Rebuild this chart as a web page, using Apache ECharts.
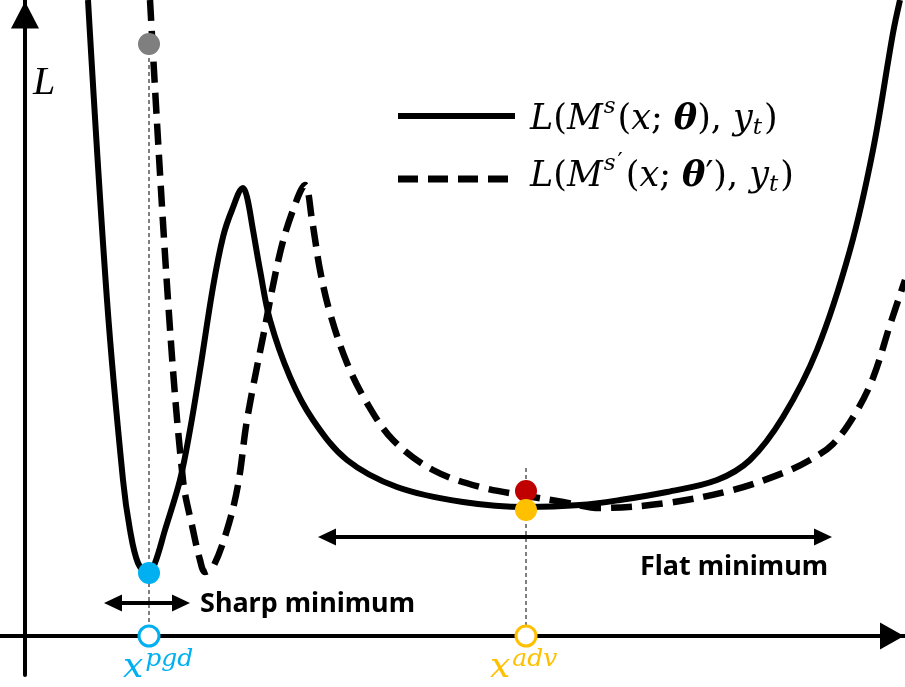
<!DOCTYPE html>
<html>
<head>
<meta charset="utf-8">
<script src="https://cdn.jsdelivr.net/npm/echarts@6/dist/echarts.min.js"></script>
<style>
  html, body { margin: 0; padding: 0; background: #fff; }
  #chart { width: 905px; height: 687px; }
</style>
</head>
<body>
<div id="chart"></div>
<script>
// DATA (x along the input axis, L = loss, origin where the two axes cross)

// solid curve  L(M^s(x; θ), y_t)
var solidLoss = [
  [63, 636], [82, 336], [98, 156], [105, 106], [113, 73], [123, 62],
  [130, 73], [140, 106], [155, 156], [165, 206], [175, 266], [188, 349],
  [198, 399], [207, 426], [218, 448], [222, 439], [228, 406], [235, 366],
  [245, 316], [265, 259], [288, 216], [322, 176], [372, 149], [438, 134],
  [502, 129], [555, 131], [595, 136], [642, 144], [692, 156], [725, 176],
  [758, 219], [792, 286], [825, 386], [848, 486], [868, 603], [875, 636]
];

// dashed curve  L(M^s'(x; θ'), y_t)
var dashedLoss = [
  [125, 636], [143, 336], [158, 156], [168, 106], [175, 76], [180, 64],
  [188, 69], [202, 106], [213, 151], [222, 216], [238, 299], [255, 383],
  [268, 426], [280, 451], [287, 416], [295, 366], [305, 323], [322, 273],
  [342, 233], [368, 196], [408, 166], [455, 149], [502, 140], [538, 134],
  [575, 128], [642, 133], [708, 146], [758, 163], [785, 176], [808, 192],
  [830, 222], [848, 258], [865, 311], [880, 356]
];

var xPgd = 124;
var xAdv = 501;

// points sitting on the curves
var grayPoint = [[xPgd, 592]];
var bluePoint = [[xPgd, 63]];
var redPoint = [[xAdv, 145]];
var yellowPoint = [[xAdv, 126]];

// guide lines dropped to the x axis
var pgdGuide = [[xPgd, 592], [xPgd, 0]];
var advGuide = [[xAdv, 168], [xAdv, 0]];

// width of the minima
var sharpRange = [88, 156];
var sharpLevel = 33;
var flatRange = [302, 798];
var flatLevel = 99;

// legend samples
var legendSolid = [[373, 520], [490, 520]];
var legendDashed = [[373, 457], [490, 457]];

var labelTexts = {
  axis: 'L',
  sharp: 'Sharp minimum',
  flat: 'Flat minimum'
};

// CHART
var chart = echarts.init(document.getElementById('chart'));

var serif = '"DejaVu Serif", "Liberation Serif", serif';
var mathRich = {
  i: { fontFamily: serif, fontStyle: 'italic', fontSize: 35, lineHeight: 56, color: '#000' },
  n: { fontFamily: serif, fontSize: 35, lineHeight: 56, color: '#000' },
  b: { fontFamily: serif, fontStyle: 'italic', fontWeight: 'bold', fontSize: 35, lineHeight: 56, color: '#000' },
  sup: { fontFamily: serif, fontStyle: 'italic', fontSize: 23, lineHeight: 22, verticalAlign: 'top', padding: [4, 2, 0, 1], color: '#000' },
  pr: { fontFamily: serif, fontSize: 23, lineHeight: 22, verticalAlign: 'top', padding: [2, 3, 0, 0], color: '#000' },
  sub: { fontFamily: serif, fontStyle: 'italic', fontSize: 23, lineHeight: 22, verticalAlign: 'bottom', padding: [0, 2, 8, 0], color: '#000' }
};

function xLabelRich(color) {
  return {
    m: { fontFamily: serif, fontStyle: 'italic', fontSize: 36, lineHeight: 50, color: color },
    s: { fontFamily: serif, fontStyle: 'italic', fontSize: 25, lineHeight: 24, verticalAlign: 'top', padding: [4, 0, 0, 2], color: color }
  };
}

function textPoint(name, pos, text, rich, extra) {
  var label = Object.assign({
    show: true,
    position: 'inside',
    align: 'left',
    verticalAlign: 'middle',
    color: '#000',
    textBorderWidth: 0,
    formatter: text,
    rich: rich
  }, extra || {});
  return {
    name: name,
    type: 'scatter',
    symbolSize: 0,
    silent: true,
    clip: false,
    z: 10,
    itemStyle: { opacity: 1 },
    data: [pos],
    label: label
  };
}

function dot(name, data, color, border, size) {
  return {
    name: name,
    type: 'scatter',
    data: data,
    symbol: 'circle',
    symbolSize: size || 22,
    clip: false,
    z: 8,
    itemStyle: border
      ? { color: '#fff', borderColor: color, borderWidth: 3, opacity: 1 }
      : { color: color, opacity: 1 }
  };
}

var option = {
  animation: false,
  backgroundColor: '#fff',
  grid: { left: 0, right: 0, top: 0, bottom: 12 },
  xAxis: {
    type: 'value',
    min: -25,
    max: 880,
    axisLine: {
      onZero: true,
      symbol: ['none', 'triangle'],
      symbolSize: [27, 24],
      symbolOffset: [0, -13],
      lineStyle: { color: '#000', width: 4 }
    },
    axisTick: { show: false },
    axisLabel: { show: false },
    splitLine: { show: false }
  },
  yAxis: {
    type: 'value',
    min: -39,
    max: 636,
    axisLine: {
      onZero: true,
      symbol: ['none', 'triangle'],
      symbolSize: [28, 27],
      symbolOffset: [0, -15],
      lineStyle: { color: '#000', width: 4 }
    },
    axisTick: { show: false },
    axisLabel: { show: false },
    splitLine: { show: false }
  },
  series: [
    {
      name: 'guides',
      type: 'line',
      data: pgdGuide,
      symbol: 'none',
      z: 1,
      lineStyle: { color: '#000', width: 1, type: [4, 3] }
    },
    {
      name: 'guides2',
      type: 'line',
      data: advGuide,
      symbol: 'none',
      z: 1,
      lineStyle: { color: '#000', width: 1, type: [4, 3] }
    },
    {
      name: 'solid',
      type: 'line',
      data: solidLoss,
      smooth: 0.35,
      symbol: 'none',
      z: 3,
      lineStyle: { color: '#000', width: 6 }
    },
    {
      name: 'dashed',
      type: 'line',
      data: dashedLoss,
      smooth: 0.35,
      symbol: 'none',
      z: 3,
      lineStyle: { color: '#000', width: 6.5, type: [21, 10] }
    },
    {
      name: 'legendSolid',
      type: 'line',
      data: legendSolid,
      symbol: 'none',
      lineStyle: { color: '#000', width: 6 }
    },
    {
      name: 'legendDashed',
      type: 'line',
      data: legendDashed,
      symbol: 'none',
      lineStyle: { color: '#000', width: 7, type: [20, 10] }
    },
    {
      name: 'ranges',
      type: 'line',
      data: [],
      markLine: {
        silent: true,
        animation: false,
        symbol: ['triangle', 'triangle'],
        symbolSize: [17, 18],
        label: { show: false },
        lineStyle: { color: '#000', width: 4, type: 'solid' },
        emphasis: { disabled: true },
        data: [
          [{ coord: [sharpRange[0], sharpLevel] }, { coord: [sharpRange[1], sharpLevel] }],
          [{ coord: [flatRange[0], flatLevel] }, { coord: [flatRange[1], flatLevel] }]
        ]
      }
    },
    dot('gray', grayPoint, '#7f7f7f'),
    dot('blue', bluePoint, '#00b0f0'),
    dot('red', redPoint, '#c00000'),
    dot('yellow', yellowPoint, '#ffc000'),
    dot('pgd', [[xPgd, 0]], '#00b0f0', true, 20),
    dot('adv', [[xAdv, 0]], '#ffc000', true, 20),
    textPoint('Ltext', [8, 553], labelTexts.axis, {},
      { fontFamily: '"Liberation Serif", serif', fontStyle: 'italic', fontSize: 40 }),
    textPoint('leg1', [505, 516],
      '{i|L}{n|(}{i|M}{sup|s}{n|(}{i|x}{n|; }{b|θ}{n|), }{i|y}{sub|t}{n|)}', mathRich),
    textPoint('leg2', [505, 459],
      '{i|L}{n|(}{i|M}{sup|s}{pr|′}{n|(}{i|x}{n|; }{b|θ}{n|′), }{i|y}{sub|t}{n|)}', mathRich),
    textPoint('sharp', [175, 32], labelTexts.sharp, {},
      { fontFamily: '"Noto Sans", sans-serif', fontWeight: 'bold', fontSize: 27 }),
    textPoint('flat', [615, 69], labelTexts.flat, {},
      { fontFamily: '"Noto Sans", sans-serif', fontWeight: 'bold', fontSize: 27 }),
    textPoint('xpgd', [98, -32], '{m|x}{s|pgd}', xLabelRich('#00b0f0')),
    textPoint('xadv', [465, -32], '{m|x}{s|adv}', xLabelRich('#ffc000'))
  ]
};

chart.setOption(option);
</script>
</body>
</html>
